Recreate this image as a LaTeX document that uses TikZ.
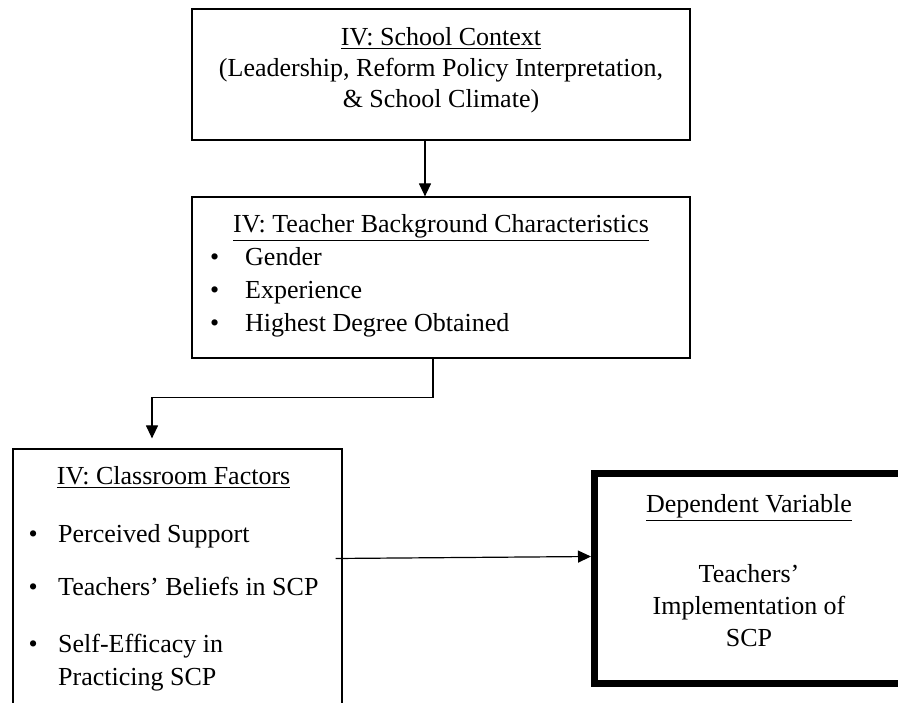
\documentclass[tikz,border=0pt]{standalone}
\usepackage{fontspec}
\setmainfont{Liberation Serif}
\usetikzlibrary{arrows.meta}

\begin{document}
\begin{tikzpicture}[x={(1pt,0pt)}, y={(0pt,-1pt)},
        box/.style={draw, line width=1.2pt, inner sep=0pt},
        txt/.style={inner sep=0pt, font=\fontsize{26}{31}\selectfont},
        arr/.style={line width=1.2pt, -{Triangle[length=13pt, width=12pt]}}]

        \useasboundingbox (0, 0) rectangle (898, 703);
        \clip (0, 0) rectangle (898, 703);

        \node[box, minimum width=498, minimum height=131] (context) at (441, 74.5) {};
        \node[box, minimum width=498, minimum height=161] (teacher) at (441, 277.5) {};
        \node[box, minimum width=329, minimum height=271] (factors) at (177.5, 584.5) {};
        \node[box, line width=7pt, minimum width=309, minimum height=210] (dv) at (749, 578.5) {};

        \node[txt, anchor=base] (contexttext) at (441, 46) {\begin{tabular}[t]{@{}c@{}}
            \underline{IV: School Context}\\
            (Leadership, Reform Policy Interpretation,\\
            \& School Climate)
        \end{tabular}};

        \node[txt, anchor=base] (teachertitle) at (441, 233) {\underline{IV: Teacher Background Characteristics}};
        \node[txt, anchor=base west, font=\fontsize{26}{33}\selectfont] (teacherlist) at (210, 266) {\begin{tabular}[t]{@{}p{35pt}@{}l@{}}
            \textbullet & Gender\\
            \textbullet & Experience\\
            \textbullet & Highest Degree Obtained
        \end{tabular}};

        \node[txt, anchor=base west, font=\fontsize{26}{33}\selectfont] (factorstext) at (28.5, 485) {\begin{tabular}[t]{@{}p{29.5pt}@{}l@{}}
            \multicolumn{2}{@{}c@{}}{\underline{IV: Classroom Factors}}\\[25pt]
            \textbullet & Perceived Support\\[20pt]
            \textbullet & Teachers' Beliefs in SCP\\[24pt]
            \textbullet & Self-Efficacy in\\
            & Practicing SCP
        \end{tabular}};

        \node[txt, anchor=base, font=\fontsize{26}{32}\selectfont] (dvtext) at (749, 513) {\begin{tabular}[t]{@{}c@{}}
            \underline{Dependent Variable}\\[38pt]
            Teachers'\\
            Implementation of\\
            SCP
        \end{tabular}};

        \coordinate (tip) at ([yshift=22pt]dv.west);

        \draw[arr] ([xshift=-16pt]context.south) -- ([xshift=-16pt]teacher.north);
        \draw[arr] ([xshift=-8pt]teacher.south) -- ++(0, 39) -| ([xshift=-25.5pt, yshift=10pt]factors.north);
        \draw[arr] (tip -| factors.east) ++(-7, 2) -- (tip);
    \end{tikzpicture}
\end{document}
